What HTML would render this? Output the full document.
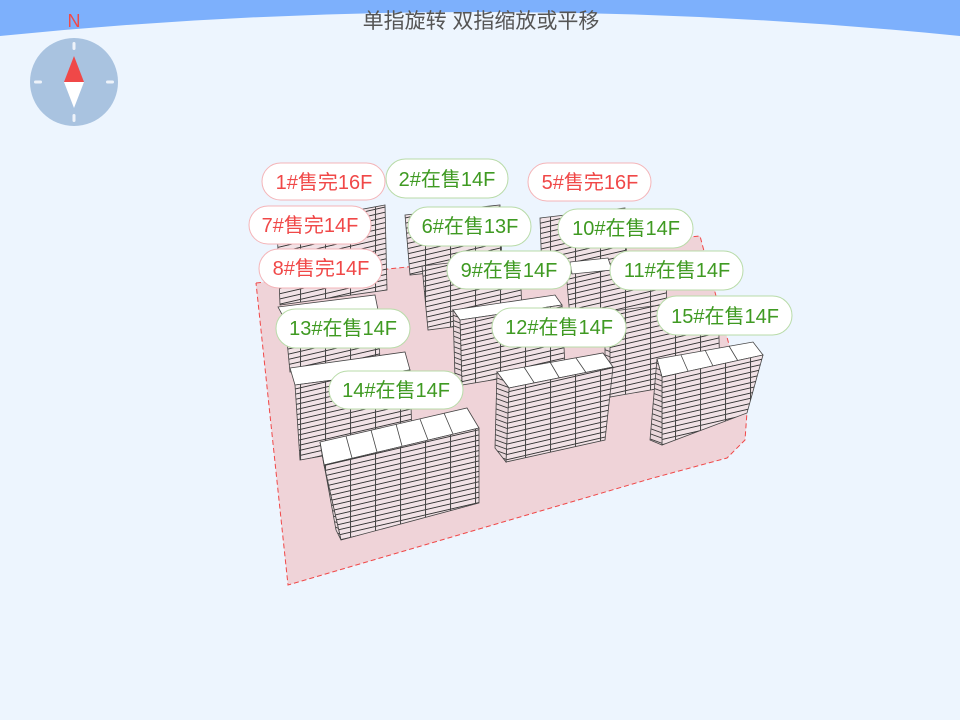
<!DOCTYPE html>
<html><head><meta charset="utf-8"><style>
html,body{margin:0;padding:0;background:#edf5fe;}
svg{display:block}
</style></head><body>
<svg width="960" height="720" viewBox="0 0 960 720" xmlns="http://www.w3.org/2000/svg" font-family="Liberation Sans, Noto Sans CJK SC, sans-serif">
<defs>
<pattern id="fa" width="25" height="5.2" patternUnits="userSpaceOnUse" patternTransform="skewY(-13)">
<rect width="25" height="5.2" fill="#f1e2e6"/>
<line x1="0" y1="4.8" x2="25" y2="4.8" stroke="#333" stroke-width="1"/>
<line x1="0.5" y1="0" x2="0.5" y2="5.2" stroke="#444" stroke-width="1"/>
</pattern>
<pattern id="sd" width="4" height="5.2" patternUnits="userSpaceOnUse" patternTransform="skewY(20)">
<rect width="4" height="5.2" fill="#ead8dc"/>
<line x1="0" y1="4.8" x2="4" y2="4.8" stroke="#333" stroke-width="1"/>
</pattern>
</defs>
<rect width="960" height="720" fill="#edf5fe"/>
<path d="M0 0 H960 V36 Q480 -12 0 36 Z" fill="#7db0fc"/>
<text x="481" y="28" text-anchor="middle" font-size="21" fill="#555">单指旋转 双指缩放或平移</text>
<text x="74" y="27" text-anchor="middle" font-size="18" fill="#f04a4a">N</text>
<circle cx="74" cy="82" r="44" fill="#a9c3e0"/>
<rect x="72.5" y="42" width="3" height="8" rx="1.5" fill="#eef3fa"/>
<rect x="72.5" y="114" width="3" height="8" rx="1.5" fill="#eef3fa"/>
<rect x="34" y="80.5" width="8" height="3" rx="1.5" fill="#eef3fa"/>
<rect x="106" y="80.5" width="8" height="3" rx="1.5" fill="#eef3fa"/>
<polygon points="74,56 64,82 84,82" fill="#f04848"/>
<polygon points="74,108 64,82 84,82" fill="#fff"/>

<polygon points="256,283 700,236 747,412 745,440 727,458 653,478 288,585" fill="#efd3d8"/>
<polyline points="256,283 700,236 747,412 745,440 727,458 653,478 288,585 256,283" fill="none" stroke="#f04848" stroke-width="1" stroke-dasharray="5,3"/>

<g stroke="#444" stroke-width="0.8">
<polygon points="277,225 385,205 387,290 280,305" fill="url(#fa)"/>
<polygon points="405,215 500,205 502,265 410,275" fill="url(#fa)"/>
<polygon points="540,218 625,208 627,265 542,275" fill="url(#fa)"/>
<polygon points="278,307 375,295 378,310 285,320" fill="#fff"/>
<polygon points="285,320 378,310 380,362 290,372" fill="url(#fa)"/>
<polygon points="422,266 520,255 522,318 428,330" fill="url(#fa)"/>
<polygon points="566,270 665,255 667,305 570,318" fill="url(#fa)"/>
<polygon points="570,262 608,258 612,270 572,274" fill="#fff"/>
<polygon points="290,368 405,352 410,370 295,385" fill="#fff"/>
<polygon points="295,385 410,370 412,440 300,460" fill="url(#fa)"/>
<polygon points="453,310 555,295 562,305 460,320" fill="#fff"/>
<polygon points="460,320 562,305 565,368 462,385" fill="url(#fa)"/>
<polygon points="453,310 460,320 462,385 455,378" fill="url(#sd)"/>
<polygon points="605,312 718,298 720,378 610,397" fill="url(#fa)"/>
<polygon points="605,312 610,320 610,397 605,392" fill="url(#sd)"/>
<polygon points="497,372 603,353 613,367 509,388" fill="#fff"/>
<line x1="524" y1="367" x2="535" y2="384"/><line x1="550" y1="362" x2="560" y2="379"/><line x1="576" y1="358" x2="587" y2="374"/>
<polygon points="509,388 613,367 605,440 506,462" fill="url(#fa)"/>
<polygon points="497,372 509,388 506,462 495,448" fill="url(#sd)"/>
<polygon points="657,359 753,342 763,355 662,377" fill="#fff"/>
<line x1="681" y1="355" x2="688" y2="371"/><line x1="705" y1="350" x2="713" y2="366"/><line x1="729" y1="346" x2="738" y2="361"/>
<polygon points="662,377 763,355 747,413 662,445" fill="url(#fa)"/>
<polygon points="657,359 662,377 662,445 650,440" fill="url(#sd)"/>
<polygon points="320,442 467,408 479,428 324,465" fill="#fff"/>
<line x1="346" y1="436" x2="352" y2="458"/><line x1="371" y1="430" x2="377" y2="452"/><line x1="396" y1="424" x2="402" y2="446"/><line x1="420" y1="419" x2="428" y2="440"/><line x1="444" y1="413" x2="453" y2="434"/>
<polygon points="324,465 479,428 479,503 341,540" fill="url(#fa)"/>
<polygon points="320,442 324,465 341,540 336,530" fill="url(#sd)"/>
</g>

<g font-size="20" text-anchor="middle">
<g fill="#fff" stroke="#f4b4b8" stroke-width="1">
<rect x="262" y="163" width="123" height="37" rx="18.5"/>
<rect x="528" y="163" width="123" height="38" rx="19"/>
<rect x="249" y="206" width="122" height="38" rx="19"/>
<rect x="259" y="249" width="123" height="39" rx="19.5"/>
</g>
<g fill="#fff" stroke="#b8dba8" stroke-width="1">
<rect x="386" y="159" width="122" height="39" rx="19.5"/>
<rect x="408" y="207" width="123" height="39" rx="19.5"/>
<rect x="558" y="209" width="135" height="39" rx="19.5"/>
<rect x="447" y="251" width="124" height="38" rx="19"/>
<rect x="610" y="251" width="133" height="39" rx="19.5"/>
<rect x="657" y="296" width="135" height="39" rx="19.5"/>
<rect x="276" y="309" width="134" height="39" rx="19.5"/>
<rect x="492" y="308" width="134" height="39" rx="19.5"/>
<rect x="329" y="371" width="134" height="38" rx="19"/>
</g>
<g fill="#f04848">
<text x="324" y="189">1#售完16F</text>
<text x="590" y="189">5#售完16F</text>
<text x="310" y="232">7#售完14F</text>
<text x="321" y="275">8#售完14F</text>
</g>
<g fill="#3f9a22">
<text x="447" y="186">2#在售14F</text>
<text x="470" y="233">6#在售13F</text>
<text x="626" y="235">10#在售14F</text>
<text x="509" y="277">9#在售14F</text>
<text x="677" y="277">11#在售14F</text>
<text x="725" y="323">15#在售14F</text>
<text x="343" y="335">13#在售14F</text>
<text x="559" y="334">12#在售14F</text>
<text x="396" y="397">14#在售14F</text>
</g>
</g>
</svg>
</body></html>
